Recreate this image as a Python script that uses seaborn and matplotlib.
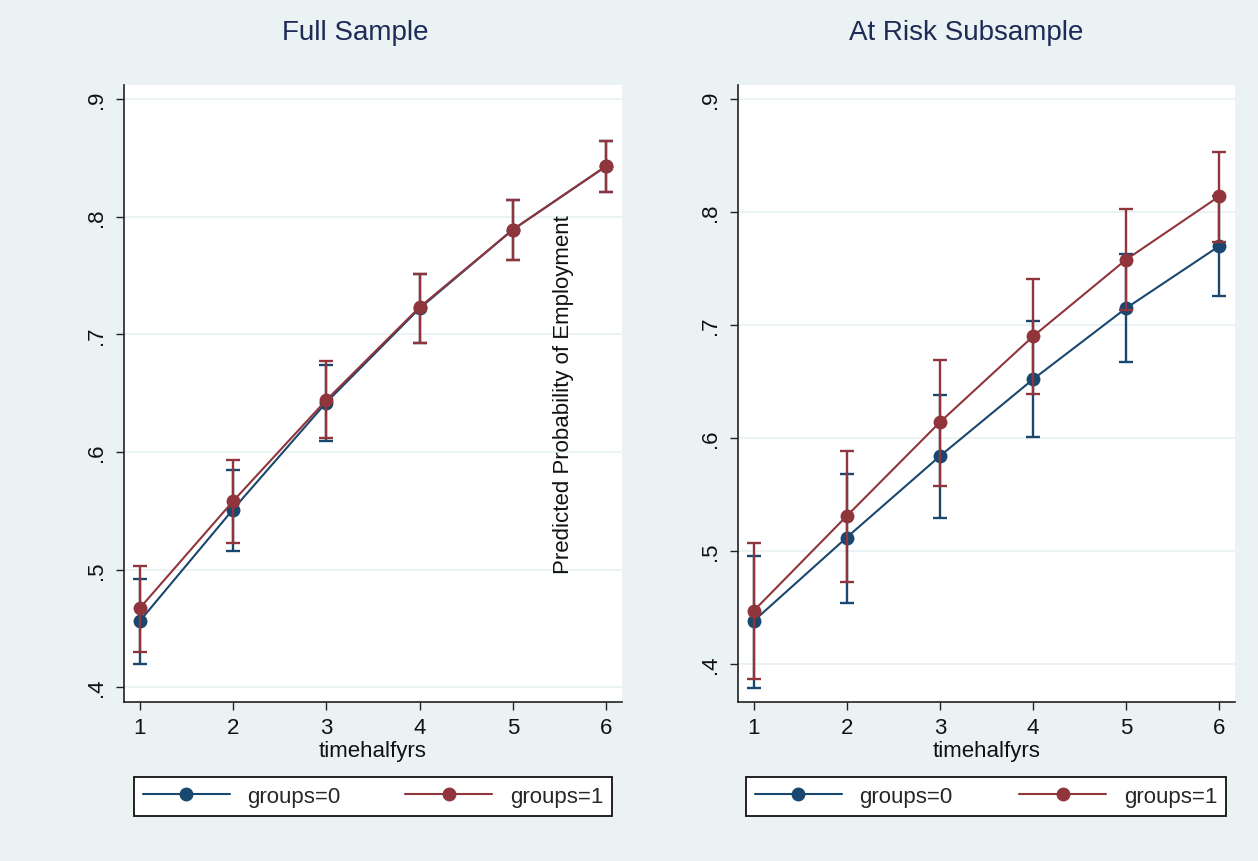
import matplotlib
matplotlib.use("Agg")
import matplotlib.pyplot as plt
import seaborn as sns
import pandas as pd

# ---- data ----
time = [1, 2, 3, 4, 5, 6]
groups = ["groups=0", "groups=1"]

full_g0 = [0.456, 0.551, 0.642, 0.722, 0.789, 0.843]
full_g0_lo = [0.420, 0.516, 0.609, 0.693, 0.763, 0.821]
full_g0_hi = [0.492, 0.585, 0.674, 0.751, 0.814, 0.864]
full_g1 = [0.467, 0.558, 0.644, 0.723, 0.789, 0.843]
full_g1_lo = [0.430, 0.523, 0.612, 0.693, 0.763, 0.821]
full_g1_hi = [0.503, 0.593, 0.677, 0.751, 0.814, 0.864]

risk_g0 = [0.438, 0.512, 0.584, 0.652, 0.715, 0.770]
risk_g0_lo = [0.379, 0.454, 0.529, 0.601, 0.667, 0.726]
risk_g0_hi = [0.496, 0.568, 0.638, 0.704, 0.763, 0.814]
risk_g1 = [0.447, 0.531, 0.614, 0.690, 0.758, 0.814]
risk_g1_lo = [0.387, 0.473, 0.558, 0.639, 0.713, 0.774]
risk_g1_hi = [0.507, 0.589, 0.669, 0.741, 0.803, 0.853]

yticks = [0.4, 0.5, 0.6, 0.7, 0.8, 0.9]
ytick_labels = [".4", ".5", ".6", ".7", ".8", ".9"]

titles = ["Full Sample", "At Risk Subsample"]
xlabel = "timehalfyrs"
side_text = "Predicted Probability of Employment"

# ---- style ----
BG = "#EAF2F3"
NAVY = "#1A476F"
MAROON = "#90353B"
TITLE_C = "#1E2B57"

sns.set_theme(style="white")
plt.rcParams["font.family"] = ["Liberation Sans", "DejaVu Sans"]

fig = plt.figure(figsize=(12.58, 8.62), dpi=100, facecolor=BG)

axes_pos = [
    [124 / 1258, 1 - 703 / 862, 498 / 1258, (703 - 86) / 862],
    [738 / 1258, 1 - 703 / 862, 497 / 1258, (703 - 86) / 862],
]
ylims = [(0.3874, 0.912), (0.3664, 0.9126)]
title_x = [355 / 1258, 966 / 1258]
legend_boxes = [
    (134 / 1258, 1 - 817 / 862, 478 / 1258, 41 / 862),
    (746 / 1258, 1 - 817 / 862, 480 / 1258, 41 / 862),
]

panels = [
    [(full_g0, full_g0_lo, full_g0_hi), (full_g1, full_g1_lo, full_g1_hi)],
    [(risk_g0, risk_g0_lo, risk_g0_hi), (risk_g1, risk_g1_lo, risk_g1_hi)],
]
colors = [NAVY, MAROON]

for i, series in enumerate(panels):
    ax = fig.add_axes(axes_pos[i])
    ax.set_facecolor("white")
    for y in yticks:
        ax.axhline(y, color=BG, lw=1.3, zorder=0)
    for j, (est, lo, hi) in enumerate(series):
        df = pd.DataFrame({"t": time, "p": est})
        yerr = [[e - l for e, l in zip(est, lo)], [h - e for e, h in zip(est, hi)]]
        ax.errorbar(time, est, yerr=yerr, fmt="none", ecolor=colors[j],
                    elinewidth=1.7, capsize=5, capthick=1.7, zorder=2 + j)
        sns.lineplot(data=df, x="t", y="p", ax=ax, color=colors[j], lw=1.5,
                     marker="o", markersize=10, markeredgewidth=0,
                     label=groups[j], legend=False, zorder=3 + j)
    ax.set_xlim(0.833, 6.17)
    ax.set_ylim(*ylims[i])
    ax.set_xticks(time)
    ax.set_xticklabels([str(t) for t in time])
    ax.set_yticks(yticks)
    ax.set_yticklabels(ytick_labels, rotation=90, va="center")
    ax.tick_params(axis="both", direction="out", length=6, width=1,
                   color="#222222", labelsize=16, labelcolor="#111111",
                   left=True, bottom=True)
    ax.tick_params(axis="y", pad=6)
    ax.tick_params(axis="x", pad=5)
    for s in ["top", "right"]:
        ax.spines[s].set_visible(False)
    for s in ["left", "bottom"]:
        ax.spines[s].set_color("#222222")
        ax.spines[s].set_linewidth(1.2)
    ax.set_xlabel(xlabel, fontsize=16, color="#111111", labelpad=1)
    ax.set_ylabel("")
    fig.text(title_x[i], 1 - 33 / 862, titles[i], fontsize=20, color=TITLE_C,
             ha="center", va="center")
    handles, labels = ax.get_legend_handles_labels()
    leg = fig.legend(handles, labels, loc="lower left", bbox_to_anchor=legend_boxes[i],
                     mode="expand", ncol=2, fontsize=16, frameon=True,
                     fancybox=False, edgecolor="#111111", facecolor="white",
                     framealpha=1.0, handlelength=3.9, handletextpad=0.8,
                     borderaxespad=0.0, columnspacing=2.0, borderpad=0.4)
    leg.get_frame().set_linewidth(1.3)

fig.text(563 / 1258, 1 - 395 / 862, side_text, rotation=90, fontsize=16,
         color="#111111", ha="center", va="center")

fig.savefig("out.png", dpi=100, facecolor=BG)
